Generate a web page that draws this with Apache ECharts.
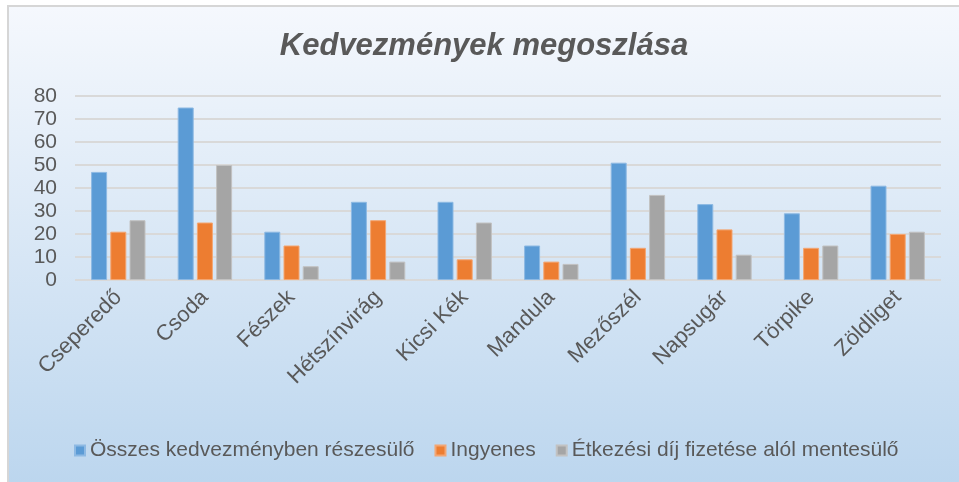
<!DOCTYPE html>
<html>
<head>
<meta charset="utf-8">
<script src="https://cdn.jsdelivr.net/npm/echarts@6/dist/echarts.min.js"></script>
<style>
  html, body { margin: 0; padding: 0; background: #fff; overflow: hidden; }
  #frame {
    position: absolute; left: 7px; top: 5px; width: 950px; height: 477px;
    border-left: 2px solid #d6d6d6; border-top: 2px solid #d6d6d6;
  }
  #chart { width: 950px; height: 477px; }
</style>
</head>
<body>
<div id="frame"><div id="chart"></div></div>
<script>
// óvodák
var categories = ["Cseperedő", "Csoda", "Fészek", "Hétszínvirág", "Kicsi Kék", "Mandula", "Mezőszél", "Napsugár", "Törpike", "Zöldliget"];
var osszes = [47, 75, 21, 34, 34, 15, 51, 33, 29, 41];
var ingyenes = [21, 25, 15, 26, 9, 8, 14, 22, 14, 20];
var etkezesi = [26, 50, 6, 8, 25, 7, 37, 11, 15, 21];
var seriesNames = ["Összes kedvezményben részesülő", "Ingyenes", "Étkezési díj fizetése alól mentesülő"];
var colors = ["#5b9bd5", "#ed7d31", "#a5a5a5"];
var borders = ["#8db9e3", "#f3a673", "#c2c2c2"];

var myChart = echarts.init(document.getElementById("chart"));

function bar(name, data, i) {
  return {
    name: name,
    type: "bar",
    data: data,
    barWidth: 16,
    barGap: "20%",
    itemStyle: {
      color: colors[i],
      borderColor: borders[i],
      borderWidth: 1
    }
  };
}

var option = {
  backgroundColor: new echarts.graphic.LinearGradient(0, 0, 0, 1, [
    { offset: 0, color: "#f5f8fd" },
    { offset: 1, color: "#bcd6ee" }
  ]),
  color: colors,
  title: {
    text: "Kedvezmények megoszlása",
    left: "center",
    top: 19,
    textStyle: {
      fontFamily: "Liberation Sans",
      fontSize: 31,
      fontWeight: "bold",
      fontStyle: "italic",
      color: "#595959"
    }
  },
  legend: {
    top: 428,
    left: 60,
    itemWidth: 10,
    itemHeight: 10,
    itemGap: 20,
    icon: "rect",
    textStyle: {
      fontFamily: "Liberation Sans",
      fontSize: 21,
      color: "#595959",
      padding: [0, 0, 0, 0]
    },
    data: seriesNames
  },
  grid: {
    left: 66,
    right: 18,
    top: 89,
    height: 184
  },
  xAxis: {
    type: "category",
    data: categories,
    axisLine: { show: false },
    axisTick: { show: false },
    axisLabel: {
      rotate: 45,
      margin: 14,
      fontFamily: "Liberation Sans",
      fontSize: 22,
      color: "#595959"
    }
  },
  yAxis: {
    type: "value",
    min: 0,
    max: 80,
    interval: 10,
    axisLine: { show: false },
    axisTick: { show: false },
    axisLabel: {
      margin: 18,
      fontFamily: "Liberation Sans",
      fontSize: 21,
      color: "#595959"
    },
    splitLine: { lineStyle: { color: "#d9d9d9", width: 2 } }
  },
  series: [
    bar(seriesNames[0], osszes, 0),
    bar(seriesNames[1], ingyenes, 1),
    bar(seriesNames[2], etkezesi, 2)
  ]
};
myChart.setOption(option);
window.addEventListener("resize", function () {
  myChart.resize();
});
</script>
</body>
</html>
